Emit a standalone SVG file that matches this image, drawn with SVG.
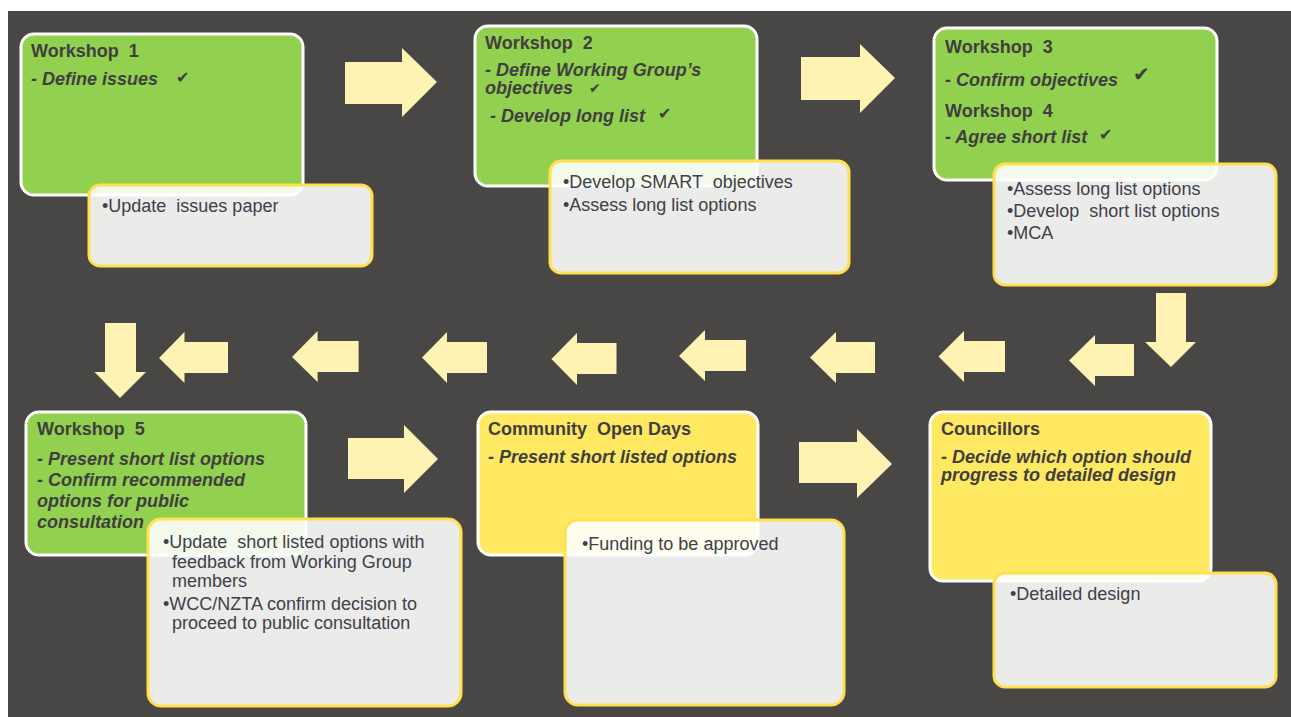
<svg xmlns="http://www.w3.org/2000/svg" width="1291" height="717" viewBox="0 0 1291 717">
<style>
.bg{fill:#494745}
.green{fill:#92d050;stroke:#ffffff;stroke-width:3}
.yel{fill:#ffe862;stroke:#ffffff;stroke-width:3}
.note{fill:#ffffff;fill-opacity:0.89;stroke:#ffe14f;stroke-width:3}
.arrow{fill:#fff3b3}
text{white-space:pre}
.t{font-family:"Liberation Sans",Arial,sans-serif;font-size:18px;font-weight:bold;fill:#3f3f3f}
.s{font-family:"Liberation Sans",Arial,sans-serif;font-size:18px;font-weight:bold;font-style:italic;fill:#3f3f3f}
.b{font-family:"Liberation Sans",Arial,sans-serif;font-size:18px;fill:#404048}
.ck{font-family:"DejaVu Sans",sans-serif;font-size:16px;fill:#3f3f3f}
</style>
<rect x="0" y="0" width="1291" height="717" fill="#ffffff"/>
<rect class="bg" x="8" y="11" width="1283" height="706"/>

<g id="connectors">
<polygon class="arrow" points="345,62 402,62 402,48 437,82 402,117 402,104 345,104"/>
<polygon class="arrow" points="801,57 860,57 860,44 895,78 860,113 860,100 801,100"/>
<polygon class="arrow" points="1156,293 1186,293 1186,342 1196,342 1171,367 1145,342 1156,342"/>
<polygon class="arrow" points="1134,344 1095,344 1095,335 1069,360.5 1095,386 1095,376 1134,376"/>
<polygon class="arrow" points="1005,341 964,341 964,331 938.5,356.5 964,382 964,372 1005,372"/>
<polygon class="arrow" points="875,342 836,342 836,332 810,357.5 836,383 836,373 875,373"/>
<polygon class="arrow" points="746,340 705,340 705,330 679,356 705,381 705,371 746,371"/>
<polygon class="arrow" points="616.5,343 577,343 577,333 551.4,359 577,385 577,374 616.5,374"/>
<polygon class="arrow" points="487,342 447,342 447,332 422,357.5 447,383 447,373 487,373"/>
<polygon class="arrow" points="358.6,341 317.6,341 317.6,331 292,357 317.6,382 317.6,372 358.6,372"/>
<polygon class="arrow" points="228,342 184.5,342 184.5,332 159,358 184.5,383 184.5,373 228,373"/>
<polygon class="arrow" points="105,323 136,323 136,372 146,372 120,398 94.5,372 105,372"/>
<polygon class="arrow" points="348,438 404,438 404,425 438,459 404,493 404,479 348,479"/>
<polygon class="arrow" points="799,442 857,442 857,429 892,464 857,498 857,483 799,483"/>
</g>

<g id="workshop1">
<rect class="green" x="21" y="34" width="282" height="161" rx="13"/>
<text class="t" x="31" y="57">Workshop  1</text>
<text class="s" x="31" y="85">- Define issues</text>
<text class="ck" x="176" y="83">✔</text>
</g>
<g id="workshop1-note">
<rect class="note" x="89" y="185" width="283" height="81" rx="11"/>
<text class="b" x="102" y="212">•Update  issues paper</text>
</g>

<g id="workshop2">
<rect class="green" x="475" y="26" width="282" height="160" rx="13"/>
<text class="t" x="485" y="49">Workshop  2</text>
<text class="s" x="485" y="76">- Define Working Group’s</text>
<text class="s" x="485" y="94">objectives</text>
<text class="ck" x="589" y="93" style="font-size:14px">✔</text>
<text class="s" x="490" y="122">- Develop long list</text>
<text class="ck" x="658" y="119">✔</text>
</g>
<g id="workshop2-note">
<rect class="note" x="550" y="161" width="299" height="112" rx="11"/>
<text class="b" x="563" y="188">•Develop SMART  objectives</text>
<text class="b" x="563" y="211">•Assess long list options</text>
</g>

<g id="workshop34">
<rect class="green" x="934" y="28" width="283" height="152" rx="13"/>
<text class="t" x="945" y="53">Workshop  3</text>
<text class="s" x="945" y="86">- Confirm objectives</text>
<text class="ck" x="1133" y="81" style="font-size:20px">✔</text>
<text class="t" x="945" y="117">Workshop  4</text>
<text class="s" x="945" y="143">- Agree short list</text>
<text class="ck" x="1099" y="140">✔</text>
</g>
<g id="workshop34-note">
<rect class="note" x="994" y="164" width="282" height="121" rx="11"/>
<text class="b" x="1007" y="195">•Assess long list options</text>
<text class="b" x="1007" y="217">•Develop  short list options</text>
<text class="b" x="1007" y="239">•MCA</text>
</g>

<g id="workshop5">
<rect class="green" x="26" y="412" width="280" height="143" rx="13"/>
<text class="t" x="37" y="435">Workshop  5</text>
<text class="s" x="37" y="465">- Present short list options</text>
<text class="s" x="37" y="486">- Confirm recommended</text>
<text class="s" x="37" y="507">options for public</text>
<text class="s" x="37" y="528">consultation</text>
</g>
<g id="workshop5-note">
<rect class="note" x="148" y="519" width="313" height="187" rx="13"/>
<text class="b" x="163" y="548">•Update  short listed options with</text>
<text class="b" x="172" y="568">feedback from Working Group</text>
<text class="b" x="172" y="587">members</text>
<text class="b" x="163" y="610">•WCC/NZTA confirm decision to</text>
<text class="b" x="172" y="629">proceed to public consultation</text>
</g>

<g id="open-days">
<rect class="yel" x="478" y="412" width="280" height="143" rx="13"/>
<text class="t" x="488" y="435">Community  Open Days</text>
<text class="s" x="488" y="463">- Present short listed options</text>
</g>
<g id="open-days-note">
<rect class="note" x="565" y="520" width="279" height="185" rx="13"/>
<text class="b" x="582" y="550">•Funding to be approved</text>
</g>

<g id="councillors">
<rect class="yel" x="930" y="412" width="281" height="169" rx="13"/>
<text class="t" x="941" y="435">Councillors</text>
<text class="s" x="941" y="463">- Decide which option should</text>
<text class="s" x="941" y="481">progress to detailed design</text>
</g>
<g id="councillors-note">
<rect class="note" x="994" y="573" width="282" height="114" rx="11"/>
<text class="b" x="1010" y="600">•Detailed design</text>
</g>
</svg>
